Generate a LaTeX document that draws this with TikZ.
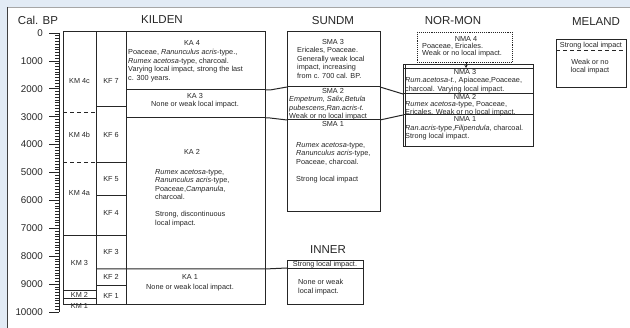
\documentclass[tikz,border=0pt]{standalone}
\usepackage{fontspec}
\setmainfont{Liberation Sans}
\usetikzlibrary{arrows.meta}
\newcommand\bxf{\fontsize{7.3}{8.5}\selectfont}
\newcommand\ttlf{\fontsize{11.5}{13}\selectfont}
\newcommand\axf{\fontsize{9.8}{11}\selectfont}
\definecolor{bgblue}{HTML}{E2EBF5}
\definecolor{ink}{HTML}{262626}
\begin{document}
\begin{tikzpicture}[x=1pt,y=-1pt,
  bx/.style={draw=ink, line width=1pt},
  thin/.style={draw=ink, line width=0.75pt},
  t/.style={font=\bxf, inner sep=0pt, text=ink},
  tl/.style={t, align=left, anchor=north west},
  ttl/.style={font=\ttlf, inner sep=0pt, text=ink},
  ax/.style={font=\axf, inner sep=0pt, text=ink, anchor=east},
  dsh/.style={draw=ink, line width=1pt, dash pattern=on 4pt off 3pt}]
\useasboundingbox (0,0) rectangle (630,328);
% frame
\fill[bgblue] (0,0) rectangle (630,328);
\fill[white] (7,7) rectangle (630,328);
\draw[black!35, line width=0.6pt] (7,7) -- (630,7);
\draw[black!75, line width=1pt] (7,7) -- (7,328);

% titles
\node[ttl] (tcal) at (38,20) {Cal. BP};
\node[ttl] (tkil) at (162,20) {KILDEN};
\node[ttl] (tsun) at (333,21) {SUNDM};
\node[ttl] (tnor) at (453,21) {NOR-MON};
\node[ttl] (tmel) at (596,22) {MELAND};
\node[ttl] (tinn) at (328,250) {INNER};

% axis
\draw[thin] (59,33) -- (59,312);
\foreach \j in {0,...,100} { \draw[thin] (55,33+2.79*\j) -- (59,33+2.79*\j); }
\foreach \i in {0,...,10} {
  \pgfmathtruncatemacro\v{\i*1000}
  \draw[thin] (49,33+27.9*\i) -- (59,33+27.9*\i);
  \node[ax] (ax\i) at (43,33+27.9*\i) {\v};
}

% KILDEN columns
\draw[bx] (63,32) rectangle (265,305);
\draw[bx] (96,32) -- (96,305);
\draw[bx] (126,32) -- (126,305);
% KM boundaries
\draw[dsh] (63,113) -- (96,113);
\draw[dsh] (63,163) -- (96,163);
\draw[bx] (63,236) -- (126,236);
\draw[bx] (63,291) -- (96,291);
\draw[bx] (63,299) -- (96,299);
% KF boundaries
\draw[bx] (96,107) -- (126,107);
\draw[bx] (96,163) -- (126,163);
\draw[bx] (96,196) -- (126,196);
\draw[bx] (96,286) -- (126,286);
% KA boundaries
\draw[bx] (126,90) -- (265,90);
\draw[bx] (126,118) -- (265,118);

% SUNDM
\draw[bx] (287,32) rectangle (380,212);
\draw[bx] (287,87) -- (380,87);
\draw[bx] (287,120) -- (380,120);
% INNER
\draw[bx] (287,261) rectangle (363,305);
\draw[thin] (287,268) -- (363,268);
% NOR-MON
\draw[draw=ink, line width=0.9pt, densely dotted] (417,32) rectangle (512,62);
\draw[bx] (403,65) rectangle (533,147);
\draw[thin] (403,68) -- (533,68);
\draw[thin] (405.5,65) -- (405.5,147);
\draw[bx] (403,94) -- (533,94);
\draw[bx] (403,115) -- (533,115);
% MELAND
\draw[bx] (556,40) rectangle (626,88);
\draw[dsh] (556,51) -- (626,51);

% connector coordinates
\coordinate (kaA) at (265,90);
\coordinate (kaB) at (265,118);
\coordinate (kaC) at (96,269);
\coordinate (smA) at (287,87);
\coordinate (smB) at (287,120);
\coordinate (smAr) at (380,87);
\coordinate (smBr) at (380,120);
\coordinate (nmA) at (403,94);
\coordinate (nmB) at (403,115);
\coordinate (inA) at (287,268);
\coordinate (nm4) at (466,62);
\coordinate (nm3) at (466,68);
\draw[bx] (kaA) -- ++(5,0) -- (smA);
\draw[bx] (kaB) -- ++(5,0) -- (smB);
\draw[bx] (kaC) -- (265,269) -- (inA);
\draw[bx] (smAr) -- (nmA);
\draw[bx] (smBr) -- (nmB);
\draw[thin, -{Stealth[length=3pt,width=3pt]}] (nm4) -- (nm3);

% KM / KF labels
\node[t] (km4c) at (79.5,81) {KM 4c};
\node[t] (kf7) at (111,81) {KF 7};
\node[t] (km4b) at (79.5,135) {KM 4b};
\node[t] (kf6) at (111,135) {KF 6};
\node[t] (km4a) at (79.5,193) {KM 4a};
\node[t] (kf5) at (111,179) {KF 5};
\node[t] (kf4) at (111,213) {KF 4};
\node[t] (km3) at (79.5,263) {KM 3};
\node[t] (kf3) at (111,252) {KF 3};
\node[t] (kf2) at (111,277) {KF 2};
\node[t] (kf1) at (111,296) {KF 1};
\node[t] (km2) at (79.5,295) {KM 2};
\node[t] (km1) at (79.5,306) {KM 1};

% KA texts
\node[t] (ka4) at (192,43) {KA 4};
\node[tl] (ka4t) at (128,49.2) {Poaceae, \textit{Ranunculus acris}-type.,\\\textit{Rumex acetosa}-type, charcoal.\\Varying local impact, strong the last\\c. 300 years.};
\node[t] (ka3) at (195,96) {KA 3};
\node[t] (ka3t) at (195,105) {None or weak local impact.};
\node[t] (ka2) at (192,152) {KA 2};
\node[tl] (ka2t) at (155,169.2) {\textit{Rumex acetosa}-type,\\\textit{Ranunculus acris}-type,\\Poaceae,\textit{Campanula},\\charcoal.\\[8.5pt]Strong, discontinuous\\local impact.};
\node[t] (ka1) at (190,277) {KA 1};
\node[t] (ka1t) at (190,288) {None or weak local impact.};

% SUNDM texts
\node[t] (sma3) at (333,42) {SMA 3};
\node[tl] (sma3t) at (297,47.2) {Ericales, Poaceae.\\Generally weak local\\impact, increasing\\from c. 700 cal. BP.};
\node[t] (sma2) at (333,91) {SMA 2};
\node[tl] (sma2t) at (289,96.2) {\textit{Empetrum, Salix,Betula}\\\textit{pubescens,Ran.acris-t.}\\Weak or no local impact};
\node[t] (sma1) at (333,124) {SMA 1};
\node[tl] (sma1t) at (296,142.2) {\textit{Rumex acetosa}-type,\\\textit{Ranunculus acris}-type,\\Poaceae, charcoal.\\[8.5pt]Strong local impact};

% INNER texts
\node[t] (inn1) at (325,264.5) {Strong local impact.};
\node[tl] (inn2) at (298,279.2) {None or weak\\local impact.};

% NOR-MON texts
\node[t] (nma4) at (466,39) {NMA 4};
\node[tl, font=\fontsize{7.3}{7.2}\selectfont] (nma4t) at (422,43.2) {Poaceae, Ericales.\\Weak or no local impact.};
\node[t] (nma3) at (465,72) {NMA 3};
\node[tl] (nma3t) at (405,77.2) {\textit{Rum.acetosa-t.}, Apiaceae,Poaceae,\\charcoal. Varying local impact.};
\node[t] (nma2) at (465,97) {NMA 2};
\node[tl, font=\fontsize{7.3}{8}\selectfont] (nma2t) at (405,101.4) {\textit{Rumex acetosa}-type, Poaceae,\\Ericales. Weak or no local impact.};
\node[t] (nma1) at (465,119.3) {NMA 1};
\node[tl] (nma1t) at (405,124.6) {\textit{Ran.acris}-type,\textit{Filipendula}, charcoal.\\Strong local impact.};

% MELAND texts
\node[t] (mel1) at (591,45.5) {Strong local impact};
\node[t, align=center] (mel2) at (590,66.5) {Weak or no\\local impact};
\end{tikzpicture}
\end{document}
